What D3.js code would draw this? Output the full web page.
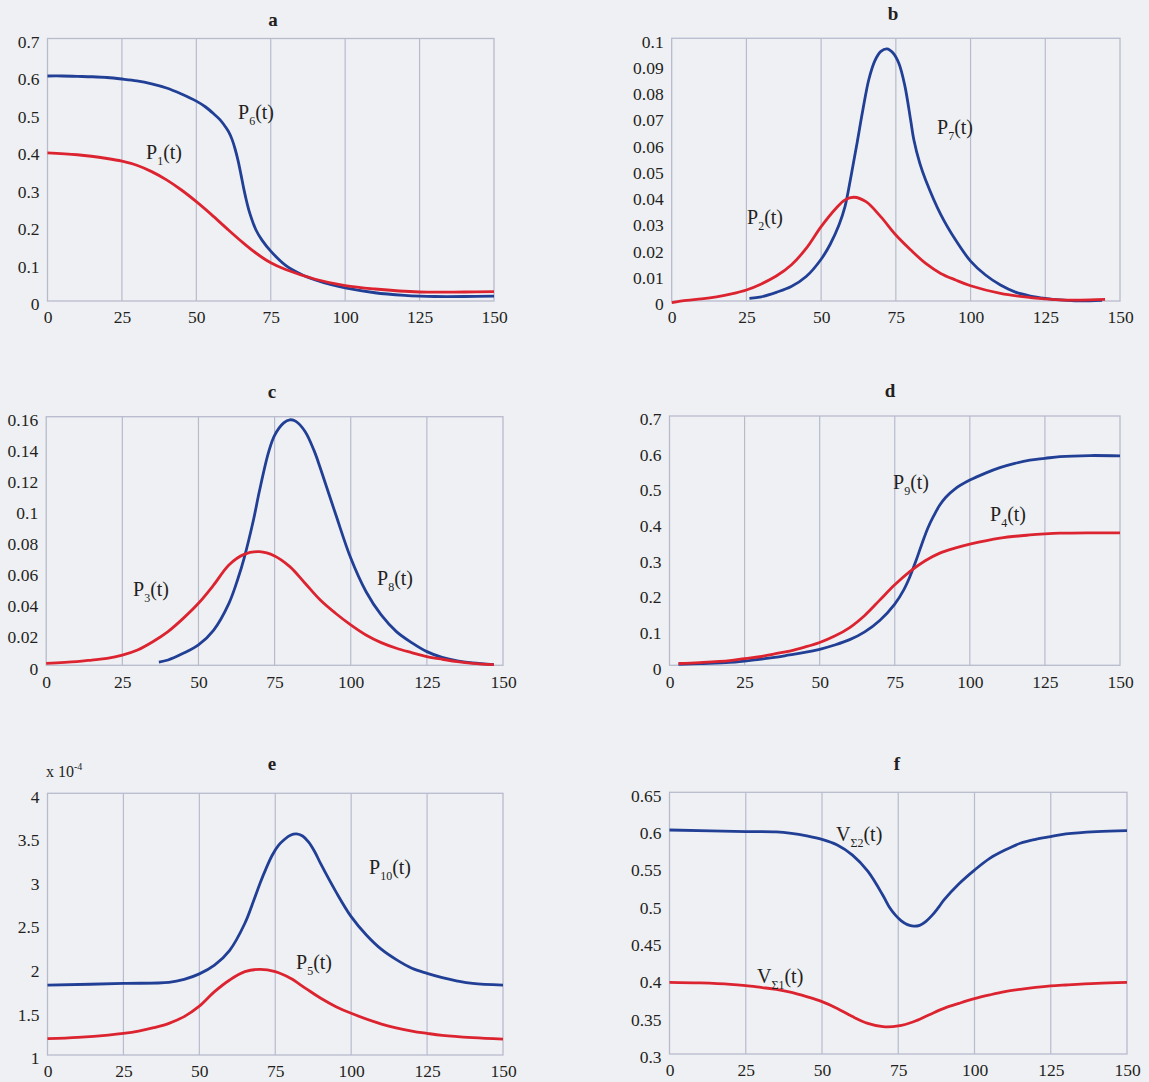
<!DOCTYPE html>
<html>
<head>
<meta charset="utf-8">
<script src="https://cdn.jsdelivr.net/npm/d3@7"></script>
<style>
  html, body { margin: 0; padding: 0; background: #eff0f4; }
  svg { display: block; }
  text { font-family: "Liberation Serif", "Times New Roman", serif; }
</style>
</head>
<body>
<div id="canvas"></div>
<script>
const canvas = d3.select("#canvas");

// ---- data ----
// a
const tP6 = [0, 5, 10, 15, 20, 25, 30, 35, 40, 45, 50, 53, 56, 58, 60, 61, 62, 63, 64, 65, 66, 67, 68, 70, 72, 75, 80, 85, 90, 95, 100, 110, 120, 125, 130, 140, 150];
const P6 = [0.600, 0.600, 0.599, 0.598, 0.596, 0.592, 0.587, 0.579, 0.568, 0.552, 0.533, 0.518, 0.498, 0.483, 0.462, 0.449, 0.431, 0.406, 0.375, 0.337, 0.297, 0.262, 0.233, 0.190, 0.163, 0.133, 0.095, 0.072, 0.056, 0.044, 0.035, 0.022, 0.015, 0.013, 0.012, 0.012, 0.013];
const tP1 = [0, 10, 20, 25, 30, 35, 40, 45, 50, 55, 60, 65, 70, 75, 80, 90, 100, 110, 125, 140, 150];
const P1 = [0.395, 0.390, 0.380, 0.373, 0.362, 0.345, 0.323, 0.296, 0.265, 0.231, 0.195, 0.160, 0.128, 0.102, 0.084, 0.058, 0.041, 0.032, 0.024, 0.024, 0.025];
// b
const tP7 = [26, 30, 35, 40, 45, 50, 53, 56, 58, 60, 62, 64, 66, 68, 70, 72, 74, 76, 78, 80, 81, 83, 85, 90, 95, 100, 105, 110, 115, 120, 125, 130, 135, 140, 144];
const P7 = [0.0010, 0.0016, 0.0033, 0.0055, 0.0093, 0.0159, 0.0215, 0.0290, 0.0360, 0.0475, 0.0600, 0.0730, 0.0845, 0.0915, 0.0950, 0.0960, 0.0945, 0.0905, 0.0820, 0.0685, 0.0615, 0.0525, 0.0460, 0.0330, 0.0232, 0.0152, 0.0099, 0.0061, 0.0034, 0.0019, 0.0010, 0.0004, 0.0001, 0.0001, 0.0002];
const tP2 = [0, 5, 10, 15, 20, 25, 30, 35, 40, 45, 50, 55, 58, 61, 65, 70, 75, 80, 85, 90, 95, 100, 110, 120, 125, 130, 140, 145];
const P2 = [-0.0006, 0.0002, 0.0008, 0.0016, 0.0027, 0.0042, 0.0065, 0.0095, 0.0137, 0.0200, 0.0283, 0.0353, 0.0385, 0.0395, 0.0378, 0.0320, 0.0251, 0.0194, 0.0143, 0.0105, 0.0080, 0.0058, 0.0029, 0.0013, 0.0008, 0.0004, 0.0004, 0.0006];
// c
const tP8 = [37, 40, 45, 50, 55, 60, 63, 65, 68, 70, 73, 75, 78, 80, 82, 85, 88, 90, 95, 100, 105, 110, 115, 120, 125, 130, 135, 140, 147];
const P8 = [0.0021, 0.0034, 0.0077, 0.0131, 0.0227, 0.0399, 0.0560, 0.0690, 0.0930, 0.1120, 0.1370, 0.1480, 0.1560, 0.1580, 0.1570, 0.1505, 0.1380, 0.1270, 0.0975, 0.0690, 0.0475, 0.0324, 0.0217, 0.0146, 0.0088, 0.0051, 0.0028, 0.0015, 0.0004];
const tP3 = [0, 10, 15, 20, 25, 30, 35, 40, 45, 50, 55, 60, 65, 70, 75, 80, 85, 90, 95, 100, 105, 110, 115, 120, 125, 130, 135, 140, 147];
const P3 = [0.0013, 0.0024, 0.0034, 0.0045, 0.0066, 0.0099, 0.0152, 0.0217, 0.0302, 0.0399, 0.0517, 0.0646, 0.0714, 0.0731, 0.0704, 0.0635, 0.0528, 0.0420, 0.0335, 0.0260, 0.0195, 0.0146, 0.0110, 0.0082, 0.0056, 0.0039, 0.0024, 0.0013, 0.0004];
// d
const tP9 = [3, 10, 20, 25, 30, 35, 40, 45, 50, 55, 60, 65, 70, 75, 78, 80, 82, 84, 86, 88, 90, 92, 95, 100, 105, 110, 115, 120, 125, 130, 140, 150];
const P9 = [0.003, 0.005, 0.008, 0.012, 0.017, 0.022, 0.029, 0.036, 0.045, 0.057, 0.072, 0.094, 0.126, 0.172, 0.212, 0.248, 0.292, 0.340, 0.385, 0.420, 0.450, 0.472, 0.495, 0.520, 0.539, 0.555, 0.567, 0.576, 0.581, 0.586, 0.589, 0.588];
const tP4 = [3, 10, 20, 25, 30, 35, 40, 45, 50, 55, 60, 65, 70, 75, 80, 85, 90, 95, 100, 110, 120, 125, 130, 140, 150];
const P4 = [0.005, 0.0075, 0.013, 0.019, 0.024, 0.032, 0.040, 0.051, 0.064, 0.082, 0.106, 0.140, 0.183, 0.226, 0.263, 0.293, 0.315, 0.329, 0.340, 0.357, 0.366, 0.369, 0.371, 0.372, 0.372];
// e  (units of 1e-4)
const tP10 = [0, 25, 40, 45, 50, 55, 60, 65, 68, 70, 72, 74, 76, 78, 80, 82, 84, 86, 88, 90, 95, 100, 105, 110, 115, 120, 125, 130, 135, 140, 150];
const P10 = [1.80, 1.82, 1.833, 1.867, 1.93, 2.03, 2.20, 2.51, 2.78, 2.97, 3.14, 3.29, 3.40, 3.47, 3.52, 3.535, 3.51, 3.44, 3.33, 3.19, 2.87, 2.586, 2.376, 2.21, 2.09, 1.994, 1.936, 1.887, 1.848, 1.82, 1.80];
const tP5 = [0, 10, 20, 25, 30, 35, 40, 45, 50, 55, 60, 65, 70, 75, 80, 85, 90, 95, 100, 110, 120, 125, 130, 140, 150];
const P5 = [1.187, 1.203, 1.229, 1.248, 1.275, 1.313, 1.363, 1.44, 1.56, 1.726, 1.86, 1.955, 1.982, 1.955, 1.879, 1.764, 1.65, 1.554, 1.478, 1.355, 1.275, 1.248, 1.225, 1.199, 1.183];
// f
const tV2 = [0, 25, 35, 40, 45, 50, 55, 60, 65, 70, 72, 74, 76, 78, 80, 82, 84, 86, 88, 90, 95, 100, 105, 110, 115, 120, 125, 130, 140, 150];
const V2 = [0.5996, 0.5974, 0.597, 0.595, 0.5916, 0.587, 0.5795, 0.566, 0.5445, 0.512, 0.497, 0.486, 0.478, 0.473, 0.471, 0.472, 0.477, 0.485, 0.495, 0.506, 0.528, 0.546, 0.5617, 0.5728, 0.5818, 0.587, 0.5907, 0.5943, 0.5974, 0.5987];
const tV1 = [0, 10, 20, 25, 30, 35, 40, 45, 50, 55, 60, 65, 70, 75, 80, 85, 90, 95, 100, 105, 110, 115, 120, 125, 130, 140, 150];
const V1 = [0.3958, 0.395, 0.3932, 0.3914, 0.389, 0.3865, 0.3825, 0.3767, 0.370, 0.361, 0.350, 0.341, 0.3366, 0.3375, 0.3432, 0.3522, 0.361, 0.3678, 0.374, 0.379, 0.3834, 0.3865, 0.389, 0.391, 0.3923, 0.3945, 0.3958];

// tick labels
const xTicks = [0, 25, 50, 75, 100, 125, 150];
const gridT = [25, 50, 75, 100, 125];
const yTicksA = [0, 0.1, 0.2, 0.3, 0.4, 0.5, 0.6, 0.7];
const yTicksB = [0, 0.01, 0.02, 0.03, 0.04, 0.05, 0.06, 0.07, 0.08, 0.09, 0.1];
const yTicksC = [0, 0.02, 0.04, 0.06, 0.08, 0.1, 0.12, 0.14, 0.16];
const yTicksE = [1, 1.5, 2, 2.5, 3, 3.5, 4];
const yTicksF = [0.3, 0.35, 0.4, 0.45, 0.5, 0.55, 0.6, 0.65];

const blue = "#213f95";
const red = "#dc2430";
const gridColor = "#b8bbcc";
const ink = "#231f20";
const font = "'Liberation Serif', 'Times New Roman', serif";

const width = 1149, height = 1082;
const svg = canvas.append("svg").attr("width", width).attr("height", height);
svg.append("rect").attr("width", width).attr("height", height).attr("fill", "#eff0f4");

const zip = (ts, vs) => ts.map((t, i) => ({ t: t, v: vs[i] }));

const panels = [
    { title: "a", box: [47.5, 494, 38.5, 301], titleXY: [273, 19], y: [0, 0.7], yTicks: yTicksA,
      series: [{ d: zip(tP6, P6), c: blue }, { d: zip(tP1, P1), c: red }],
      labels: [{ m: "P", s: "6", x: 238, y: 119 }, { m: "P", s: "1", x: 146, y: 159 }] },
    { title: "b", box: [671.7, 1120, 38.3, 301], titleXY: [893, 13], y: [0, 0.1], yTicks: yTicksB,
      series: [{ d: zip(tP7, P7), c: blue }, { d: zip(tP2, P2), c: red }],
      labels: [{ m: "P", s: "7", x: 937, y: 134 }, { m: "P", s: "2", x: 747, y: 224 }] },
    { title: "c", box: [46.2, 503, 416.7, 665.3], titleXY: [272, 391], y: [0, 0.16], yTicks: yTicksC,
      series: [{ d: zip(tP8, P8), c: blue }, { d: zip(tP3, P3), c: red }],
      labels: [{ m: "P", s: "8", x: 377, y: 585 }, { m: "P", s: "3", x: 133, y: 596 }] },
    { title: "d", box: [669.5, 1120, 416, 665.3], titleXY: [890, 390], y: [0, 0.7], yTicks: yTicksA,
      series: [{ d: zip(tP9, P9), c: blue }, { d: zip(tP4, P4), c: red }],
      labels: [{ m: "P", s: "9", x: 893, y: 489 }, { m: "P", s: "4", x: 990, y: 521 }] },
    { title: "e", box: [47.5, 503, 793.3, 1055], titleXY: [272, 763], y: [1, 4], yTicks: yTicksE,
      series: [{ d: zip(tP10, P10), c: blue }, { d: zip(tP5, P5), c: red }],
      labels: [{ m: "P", s: "10", x: 369, y: 874 }, { m: "P", s: "5", x: 296, y: 969 }] },
    { title: "f", box: [669.5, 1127, 792.3, 1054], titleXY: [897, 763], y: [0.3, 0.65], yTicks: yTicksF,
      series: [{ d: zip(tV2, V2), c: blue }, { d: zip(tV1, V1), c: red }],
      labels: [{ m: "V", s: "\u03A32", x: 836, y: 841 }, { m: "V", s: "\u03A31", x: 757, y: 983 }] }
];

panels.forEach(p => {
    const [l, r, t, b] = p.box;
    const x = d3.scaleLinear().domain([0, 150]).range([l, r]);
    const y = d3.scaleLinear().domain(p.y).range([b, t]);
    const g = svg.append("g");

    // grid + frame
    g.selectAll(".grid").data(gridT).enter().append("line")
        .attr("x1", d => x(d)).attr("x2", d => x(d))
        .attr("y1", t).attr("y2", b)
        .attr("stroke", gridColor).attr("stroke-width", 1.2);
    g.append("rect")
        .attr("x", l).attr("y", t).attr("width", r - l).attr("height", b - t)
        .attr("fill", "none").attr("stroke", gridColor).attr("stroke-width", 1.3);

    // axes
    const xa = g.append("g")
        .attr("transform", `translate(0, ${b})`)
        .call(d3.axisBottom(x).tickValues(xTicks).tickSize(0).tickPadding(10).tickFormat(d3.format("~g")));
    const ya = g.append("g")
        .attr("transform", `translate(${l}, 0)`)
        .call(d3.axisLeft(y).tickValues(p.yTicks).tickSize(0).tickPadding(8).tickFormat(d3.format("~g")));
    ya.selectAll("text").attr("dy", "0.5em");
    [xa, ya].forEach(a => {
        a.select(".domain").remove();
        a.attr("font-family", null).attr("font-size", null);
        a.selectAll("text")
            .style("font-family", font)
            .style("font-size", "17.5px")
            .attr("fill", ink);
    });

    // curves
    const line = d3.line().x(d => x(d.t)).y(d => y(d.v)).curve(d3.curveCatmullRom.alpha(0.5));
    p.series.forEach(s => {
        g.append("path").datum(s.d)
            .attr("d", line)
            .attr("fill", "none")
            .attr("stroke", s.c)
            .attr("stroke-width", 2.8)
            .attr("stroke-linejoin", "round");
    });

    // title
    g.append("text")
        .attr("x", p.titleXY[0]).attr("y", p.titleXY[1])
        .attr("text-anchor", "middle").attr("dominant-baseline", "central")
        .style("font-family", font).style("font-size", "19px").style("font-weight", "bold")
        .attr("fill", ink)
        .text(p.title);

    // curve labels
    p.labels.forEach(lb => {
        const tx = g.append("text")
            .attr("x", lb.x).attr("y", lb.y)
            .style("font-family", font).style("font-size", "20px").attr("fill", ink);
        tx.append("tspan").text(lb.m);
        tx.append("tspan").style("font-size", "12px").attr("dy", 6).text(lb.s);
        tx.append("tspan").attr("dy", -6).text("(t)");
    });
});

// exponent note for panel e
const ex = svg.append("text")
    .attr("x", 46).attr("y", 777)
    .style("font-family", font).style("font-size", "16px").attr("fill", ink);
ex.append("tspan").text("x 10");
ex.append("tspan").style("font-size", "10px").attr("dy", -7).text("-4");
</script>
</body>
</html>
